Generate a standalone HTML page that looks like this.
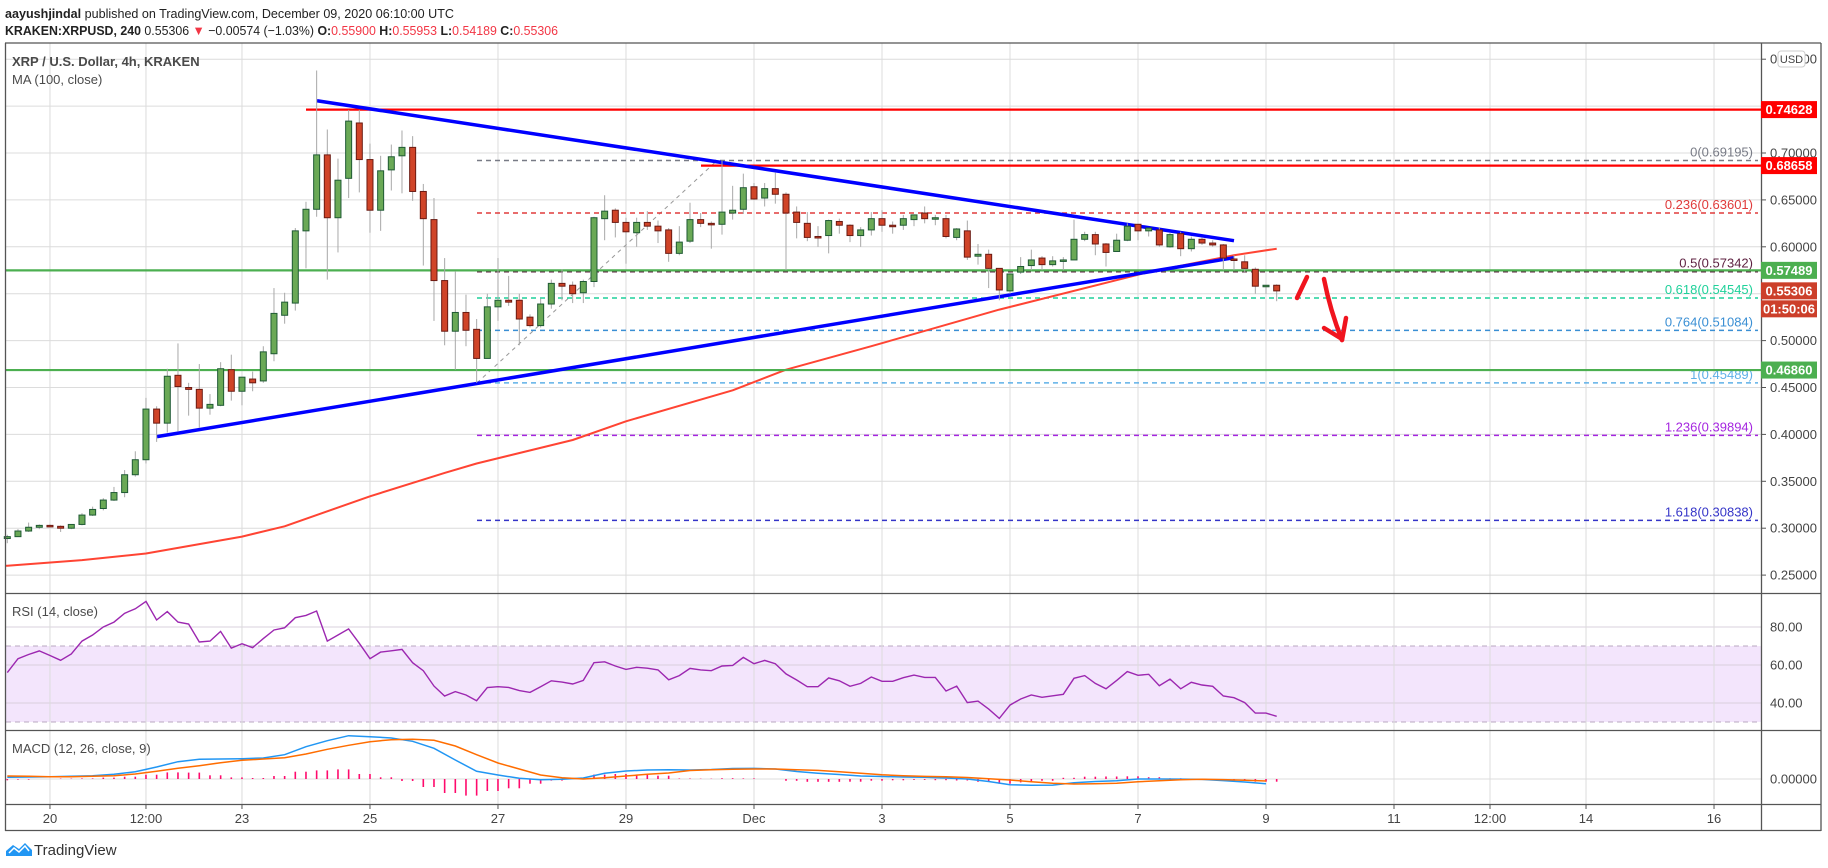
<!DOCTYPE html>
<html><head><meta charset="utf-8">
<style>
html,body{margin:0;padding:0;background:#fff;}
svg{display:block;font-family:"Liberation Sans",sans-serif;}
</style></head>
<body>
<svg id="chart" width="1828" height="868" viewBox="0 0 1828 868" xmlns="http://www.w3.org/2000/svg">
<rect x="0" y="0" width="1828" height="868" fill="#fff"/>
<g id="rsiband"></g>
<g id="grid"></g>
<g id="fib"></g>
<g id="ma"></g>
<g id="lines"></g>
<g id="candles"></g>
<g id="ind"></g>
<g id="axes"></g>
<text x="5" y="18" font-size="13" fill="#222" textLength="449" lengthAdjust="spacingAndGlyphs"><tspan font-weight="bold">aayushjindal</tspan> published on TradingView.com, December 09, 2020 06:10:00 UTC</text>
<text x="5" y="35" font-size="13" fill="#222" textLength="553" lengthAdjust="spacingAndGlyphs"><tspan font-weight="bold">KRAKEN:XRPUSD, 240</tspan> 0.55306 <tspan fill="#f23645">▼</tspan> −0.00574 (−1.03%) <tspan font-weight="bold">O:</tspan><tspan fill="#f23645">0.55900</tspan> <tspan font-weight="bold">H:</tspan><tspan fill="#f23645">0.55953</tspan> <tspan font-weight="bold">L:</tspan><tspan fill="#f23645">0.54189</tspan> <tspan font-weight="bold">C:</tspan><tspan fill="#f23645">0.55306</tspan></text>
<text x="12" y="66" font-size="13" font-weight="bold" fill="#4a4a4a">XRP / U.S. Dollar, 4h, KRAKEN</text>
<text x="12" y="84" font-size="13" fill="#4a4a4a">MA (100, close)</text>
<text x="12" y="616" font-size="13" fill="#4a4a4a">RSI (14, close)</text>
<text x="12" y="753" font-size="13" fill="#4a4a4a">MACD (12, 26, close, 9)</text>
<g>
<path d="M6 856 L6 851 L13 845 L19 849 L25 843 L32 850 L32 856 Z" fill="#2196f3"/>
<path d="M9 853 L14 848 L19 852 L25 846 L29 851" stroke="#fff" stroke-width="1.5" fill="none"/>
<text x="34" y="855" font-size="15" fill="#333">TradingView</text>
</g>
</svg>
<script>
// ---- data ----
const opens=[.289,.291,.297,.301,.303,.302,.300,.304,.314,.321,.330,.338,.357,.373,.427,.412,.463,.450,.448,.428,.431,.469,.446,.459,.457,.486,.527,.540,.617,.640,.698,.631,.673,.732,.693,.639,.682,.697,.706,.659,.629,
.564,.510,.530,.512,.481,.536,.543,.543,.525,.516,.539,.561,.559,.551,.563,.630,.639,.626,.615,.626,.622,.618,.593,.606,.629,.625,.624,.636,.640,.664,.652,.662,.656,.637,.625,.611,.612,.627,.623,.612,
.618,.630,.623,.623,.629,.636,.631,.630,.610,.617,.590,.592,.577,.553,.573,.580,.588,.581,.585,.586,.608,.613,.603,.595,.607,.624,.617,.618,.600,.614,.598,.608,.604,.602,.587,.584,.576,.558,.559];
const highs=[.293,.299,.306,.304,.304,.303,.304,.316,.323,.332,.344,.362,.382,.439,.430,.470,.497,.455,.475,.443,.477,.485,.461,.467,.494,.556,.551,.620,.648,.788,.725,.694,.746,.746,.710,.697,.709,.724,.718,.667,.652,
.588,.574,.549,.523,.550,.588,.569,.550,.528,.545,.565,.576,.563,.565,.632,.655,.641,.631,.631,.638,.628,.620,.622,.647,.636,.627,.692,.665,.678,.668,.668,.679,.658,.643,.637,.622,.629,.630,.624,.621,
.637,.639,.627,.634,.634,.643,.634,.634,.620,.628,.603,.597,.577,.571,.589,.597,.590,.590,.589,.629,.616,.616,.604,.614,.625,.624,.620,.621,.615,.616,.611,.610,.607,.603,.591,.591,.578,.559,.560];
const lows=[.284,.291,.296,.299,.302,.296,.299,.303,.313,.319,.329,.333,.355,.369,.392,.402,.403,.420,.407,.421,.430,.436,.431,.446,.455,.478,.518,.532,.577,.632,.565,.594,.652,.658,.615,.617,.660,.657,.649,.580,.521,
.495,.469,.494,.455,.481,.521,.537,.495,.514,.514,.534,.543,.540,.540,.557,.607,.610,.582,.600,.618,.604,.584,.591,.604,.621,.598,.613,.629,.635,.650,.643,.646,.575,.609,.606,.600,.593,.614,.605,.600,
.612,.616,.614,.618,.622,.625,.623,.609,.607,.586,.581,.556,.543,.550,.571,.575,.575,.579,.575,.586,.606,.591,.579,.595,.606,.607,.611,.600,.599,.590,.595,.602,.600,.575,.575,.573,.550,.550,.542];
const closes=[.291,.297,.301,.303,.302,.300,.304,.314,.320,.330,.338,.357,.373,.427,.412,.462,.451,.448,.428,.432,.470,.446,.461,.455,.488,.529,.541,.617,.640,.698,.631,.671,.734,.693,.639,.681,.696,.706,.659,.630,.564,
.510,.530,.511,.481,.536,.543,.541,.523,.516,.539,.561,.558,.550,.563,.631,.638,.626,.616,.626,.622,.617,.593,.605,.629,.625,.624,.637,.639,.663,.651,.662,.656,.636,.626,.610,.610,.628,.623,.612,.618,
.630,.623,.622,.630,.634,.630,.631,.611,.619,.589,.592,.577,.554,.571,.579,.586,.581,.585,.586,.608,.613,.603,.594,.607,.622,.617,.620,.602,.613,.598,.608,.604,.602,.588,.586,.577,.558,.559,.553];
const maIndex=[0,7,13,22,26,34,41,44,53,58,68,73,81,93,107,115,119];
const maValues=[.260,.266,.273,.291,.302,.334,.359,.369,.394,.414,.447,.469,.494,.533,.573,.591,.598];
const rsiValues=[56.0,63.3,65.5,67.4,65.0,62.5,65.8,72.6,75.8,80.0,82.6,87.2,89.6,93.5,83.7,88.1,82.6,81.6,72.1,72.6,77.7,68.9,71.2,69.1,73.9,78.4,79.6,84.9,86.1,88.4,72.6,75.8,79.0,71.4,63.3,66.8,67.5,68.2,61.2,57.0,48.9,43.7,46.0,44.2,41.2,48.1,48.6,48.2,46.5,45.6,48.6,51.7,51.0,50.0,51.9,61.2,61.7,59.5,57.7,58.8,58.3,57.4,52.2,54.4,58.2,57.4,57.0,59.5,59.8,64.0,60.7,62.4,60.7,55.3,52.1,48.6,48.6,53.2,51.7,48.8,50.3,53.7,51.4,51.4,53.3,54.7,53.5,53.5,46.3,48.9,40.2,41.0,36.8,31.9,38.9,42.1,44.2,43.0,43.8,44.6,53.0,54.4,50.3,47.5,51.9,56.5,54.6,55.1,49.1,52.6,47.5,50.9,49.5,48.8,43.7,42.8,40.2,34.7,34.7,33.0];
// MACD values in units of 0.001, sampled every 2nd candle
const macdLine=[1.7,2,2.3,2.7,3.3,4.7,7.3,12,17.3,19.7,20,20.3,21,24.3,32.3,38.3,43.3,42.3,41,37.7,30.7,19,7.7,4,0.7,-0.7,-0.3,1,5.7,8,9,9.3,9,9.5,10.5,10.6,10,7.5,5.8,4.5,3,2.5,2,1.7,1,0,-2.5,-5.7,-6.2,-6.1,-3.8,-2.5,-1.8,0,0,-0.1,-0.4,-1.6,-3,-4.7];
const signalLine=[3,2.7,2.3,2.3,2.7,3.3,5,7.7,10.7,13.3,16.3,18.7,20,21.3,25,29.7,33.7,37.3,39.3,39.7,38.7,33,24.3,16,10,4,1.3,0,1.3,3,4.7,6,8.5,9.2,9.7,10,10,9.3,8.6,7.3,5.7,4.2,3.3,2.6,2.2,1.5,0.3,-1,-2.8,-4.3,-5,-4.8,-4.3,-2.7,-1.8,-0.8,-0.3,-0.6,-1.2,-2];
const priceTicks=[0.80,0.70,0.65,0.60,0.50,0.45,0.40,0.35,0.30,0.25];
const priceGrid=[0.80,0.75,0.70,0.65,0.60,0.55,0.50,0.45,0.40,0.35,0.30,0.25];
const timeLabels=["20","12:00","23","25","27","29","Dec","3","5","7","9","11","12:00","14","16"];
const timeIndex=[4,13,22,34,46,58,70,82,94,106,118,130,139,148,160];
const rsiTicks=[80,60,40];
const fibRatios=["0","0.236","0.5","0.618","0.764","1","1.236","1.618"];
const fibPrices=[0.69195,0.63601,0.57342,0.54545,0.51084,0.45489,0.39894,0.30838];
const fibColors=["#787b86","#e03b3b","#5c1f3f","#1fd19a","#3a8fd4","#5fb0e8","#a526e0","#3535c8"];

// ---- scales ----
const X0=7.3, STEP=10.667;
const xOf=i=>X0+i*STEP;
const yP=p=>153+(0.70-p)*938;
const yR=v=>627+(80-v)*1.9;
const yM=v=>779-v;
const L=6, R=1761;
const NS="http://www.w3.org/2000/svg";
function mk(parent,tag,attrs){const e=document.createElementNS(NS,tag);for(const k in attrs)e.setAttribute(k,attrs[k]);document.getElementById(parent).appendChild(e);return e;}

// grid
priceGrid.forEach(p=>{const e=mk('grid','line',{x1:L,x2:R,y1:yP(p),y2:yP(p),stroke:'#dcdcdc','stroke-width':1});

});
rsiTicks.forEach(v=>{const e=mk('grid','line',{x1:L,x2:R,y1:yR(v),y2:yR(v),stroke:'#d8d0dc','stroke-width':1});

});
{const e=mk('grid','line',{x1:L,x2:R,y1:yM(0),y2:yM(0),stroke:'#dcdcdc','stroke-width':1});

}
timeIndex.forEach(i=>{const e=mk('grid','line',{x1:xOf(i),x2:xOf(i),y1:43,y2:804,stroke:'#dcdcdc','stroke-width':1});

});

// rsi band
{const e=mk('rsiband','rect',{x:L,y:yR(70),width:R-L,height:yR(30)-yR(70),fill:'#f3e5fc'});


[70,30].forEach(v=>{const d=mk('rsiband','line',{x1:L,x2:R,y1:yR(v),y2:yR(v),stroke:'#b8a8c0','stroke-dasharray':'5,4','stroke-width':1});

});}

// fib
const FX0=477, FX1=717;
{const e=mk('fib','line',{x1:FX0,y1:yP(fibPrices[5]),x2:FX1,y2:yP(fibPrices[0]),stroke:'#999','stroke-dasharray':'4,4','stroke-width':1});

}
fibPrices.forEach((p,k)=>{const y=yP(p);
const l=mk('fib','line',{x1:FX0,x2:1758,y1:y,y2:y,stroke:fibColors[k],'stroke-dasharray':'5,4','stroke-width':1.5});


const t=mk('fib','text',{x:1753,y:y-4,'font-size':13,'text-anchor':'end',fill:fibColors[k]});
t.textContent=fibRatios[k]+'('+p.toFixed(5)+')';

});

// MA polyline
{let pts=maIndex.map((i,k)=>xOf(i).toFixed(1)+','+yP(maValues[k]).toFixed(1)).join(' ');
pts=L+','+yP(maValues[0]).toFixed(1)+' '+pts;
const e=mk('ma','polyline',{points:pts,fill:'none',stroke:'#ff4433','stroke-width':2,'stroke-linejoin':'round'});

}

// horizontal + trend lines
function hline(p,x1,color,name){const e=mk('lines','line',{x1:x1,x2:R,y1:yP(p),y2:yP(p),stroke:color,'stroke-width':2.2});

}
hline(0.74628,306,'#ff0000','resistance-line-074628');
hline(0.68658,701,'#ff0000','resistance-line-068658');
hline(0.57489,L,'#4caf50','support-line-057489');
hline(0.46860,L,'#4caf50','support-line-046860');
{const e=mk('lines','line',{x1:317,y1:yP(0.7557),x2:1234,y2:yP(0.6065),stroke:'#0000ff','stroke-width':3.5});


const f=mk('lines','line',{x1:157,y1:yP(0.3976),x2:1234,y2:yP(0.5884),stroke:'#0000ff','stroke-width':3.5});

}

// candles
opens.forEach((o,i)=>{const c=closes[i],h=highs[i],lo=lows[i],x=xOf(i),up=c>=o;
const w=mk('candles','line',{x1:x,x2:x,y1:yP(h),y2:yP(lo),stroke:'#a8a8a8','stroke-width':1});


const top=yP(Math.max(o,c)),bot=yP(Math.min(o,c));
const b=mk('candles','rect',{x:x-3,y:top,width:6,height:Math.max(1.5,bot-top),fill:up?'#6aa956':'#d04428',stroke:up?'#1f5a34':'#6b1a12','stroke-width':1});

});

// red arrow
{const g=mk('lines','g',{stroke:'#f0141e','stroke-width':4.5,fill:'none','stroke-linecap':'round'});


const mkp=d=>{const p=document.createElementNS(NS,'path');p.setAttribute('d',d);g.appendChild(p);};
mkp('M1297 298 L1307 277');mkp('M1324 279 Q1330 310 1342 340');mkp('M1324 328 L1342 339');mkp('M1346 318 L1342 340');}

// RSI
{const pts=rsiValues.map((v,i)=>xOf(i).toFixed(1)+','+yR(v).toFixed(1)).join(' ');
const e=mk('ind','polyline',{points:pts,fill:'none',stroke:'#9c27b0','stroke-width':1.4});

}
// MACD histogram
for(let i=0;i<opens.length;i++){const k=Math.min(macdLine.length-1,Math.round(i/2));const v=macdLine[k]-signalLine[k];
const e=mk('ind','line',{x1:xOf(i),x2:xOf(i),y1:yM(0),y2:yM(v),stroke:'#ff0a6c','stroke-width':1.6});

}
{const p1=macdLine.map((v,k)=>xOf(k*2).toFixed(1)+','+yM(v).toFixed(1)).join(' ');
const e=mk('ind','polyline',{points:p1,fill:'none',stroke:'#2196f3','stroke-width':1.5});


const p2=signalLine.map((v,k)=>xOf(k*2).toFixed(1)+','+yM(v).toFixed(1)).join(' ');
const s=mk('ind','polyline',{points:p2,fill:'none',stroke:'#ff6d00','stroke-width':1.5});

}

// axes & frame
[['frame-top',5,43,1821,43],['frame-left',5.5,43,5.5,831],['frame-right',1821,43,1821,831],['frame-bottom',5,830.5,1821,830.5],
 ['price-axis-border',1761.5,43,1761.5,831],['rsi-separator',5,593.5,1821,593.5],['macd-separator',5,730.5,1821,730.5],['time-axis-border',5,804.5,1821,804.5]].forEach(a=>{
const e=mk('axes','line',{x1:a[1],y1:a[2],x2:a[3],y2:a[4],stroke:'#555','stroke-width':1.3});

});
priceTicks.forEach(p=>{const y=yP(p);
const tk=mk('axes','line',{x1:1761,x2:1766,y1:y,y2:y,stroke:'#555'});


const t=mk('axes','text',{x:1770,y:y+4.5,'font-size':13,fill:'#444'});
t.textContent=p.toFixed(5);

});
rsiTicks.forEach(v=>{const y=yR(v);
const t=mk('axes','text',{x:1770,y:y+4.5,'font-size':13,fill:'#444'});
t.textContent=v.toFixed(2);

});
{const t=mk('axes','text',{x:1770,y:yM(0)+4.5,'font-size':13,fill:'#444'});
t.textContent='0.00000';

}
timeLabels.forEach((s,k)=>{const x=xOf(timeIndex[k]);
const tk=mk('axes','line',{x1:x,x2:x,y1:804,y2:809,stroke:'#555'});


const t=mk('axes','text',{x:x,y:823,'font-size':13,'text-anchor':'middle',fill:'#444'});
t.textContent=s;

});
// USD button
{const r=mk('axes','rect',{x:1778,y:51,width:27,height:16,rx:3,fill:'#fff',stroke:'#ccc'});


const t=mk('axes','text',{x:1791.5,y:63,'font-size':11,'text-anchor':'middle',fill:'#444'});
t.textContent='USD';

}
// price tags
[['0.74628',yP(0.74628),'#ff0000'],['0.68658',yP(0.68658),'#ff0000'],['0.57489',yP(0.57489),'#4caf50'],['0.55306',yP(0.55306),'#cc3f2a'],['01:50:06',yP(0.55306)+18,'#cc3f2a'],['0.46860',yP(0.4686),'#4caf50']].forEach(a=>{
const r=mk('axes','rect',{x:1761,y:a[1]-8.5,width:56,height:17,fill:a[2]});


const t=mk('axes','text',{x:1789,y:a[1]+4.5,'font-size':13,'font-weight':'bold','text-anchor':'middle',fill:'#fff'});
t.textContent=a[0];

});
</script>
</body></html>
